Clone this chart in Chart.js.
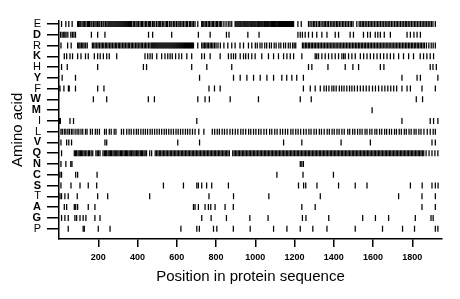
<!DOCTYPE html>
<html><head><meta charset="utf-8">
<script src="https://cdn.jsdelivr.net/npm/chart.js@4/dist/chart.umd.min.js"></script>
<style>html,body{margin:0;padding:0;background:#fff;}</style>
</head><body>
<canvas id="c" width="460" height="299"></canvas>
<script>
const aminoAcids = ['E','D','R','K','H','Y','F','W','M','I','L','V','Q','N','C','S','T','A','G','P'];
const boldLabels = ['D','K','Y','W','M','V','Q','N','C','S','A','G'];
const xTickValues = [200,400,600,800,1000,1200,1400,1600,1800];

const posE = [13,35,50,67,
95,100,106,111,118,126,131,137,145,150,156,163,168,176,183,189,196,203,208,216,224,229,237,244,250,
255,260,265,270,275,280,285,290,295,300,305,310,315,320,325,330,335,340,345,350,355,360,365,370,
378,384,392,398,405,413,420,425,433,441,447,455,462,467,476,483,488,497,505,511,518,526,531,540,547,553,562,570,575,584,590,598,606,612,620,627,634,642,650,655,664,671,678,685,693,
707,
727,732,738,745,752,760,766,774,781,787,795,802,808,816,822,829,
840,851,862,871,880,
897,902,907,912,917,922,927,932,938,943,948,953,958,963,968,974,979,984,989,994,999,1004,1010,1015,1020,1025,1030,1035,1040,1046,1051,1056,1061,1066,1071,1076,1082,1087,1092,1097,1102,1107,1112,1118,1123,1128,1133,1138,1143,1148,1154,1159,1164,1169,1174,1179,1184,1190,1195,
1217,1234,
1271,1279,1288,1296,1303,1311,1320,1327,1335,1344,1351,1358,1366,1373,1382,1390,1397,1405,1413,1420,1428,1436,1444,1451,1459,1467,1474,1483,1490,1498,1517,1529,1537,1545,1552,1560,1568,1576,1584,1591,1599,1607,1615,1623,1630,1638,1646,1654,1662,1670,1677,1685,1693,1701,1709,1717,1724,1732,1740,1748,1756,1764,1771,1779,1787,1795,1803,1811,1818,1826,1834,1842,1850,1858,1865,1873,1881,1889,1897,1905,1917];

const posD = [8,16,24,30,36,45,60,68,76,84,165,197,234,456,477,574,710,770,853,866,962,1019,1217,1229,1240,1254,1271,1291,1313,1339,1365,1407,1424,1483,1500,1551,1572,1586,1611,1624,1637,1657,1688,1773,1790,1808,1824,1841];

const posR = [10,44,62,
95,101,107,114,121,128,136,144,
170,177,184,192,199,206,214,221,228,236,243,250,258,265,272,280,287,294,302,309,316,324,331,338,346,353,360,368,375,382,390,397,404,412,419,426,434,441,448,456,463,
470,475,480,485,490,495,500,505,510,515,520,525,530,535,540,545,550,555,560,565,570,575,580,585,590,595,600,605,610,615,620,625,630,635,640,645,650,655,660,665,670,675,680,685,
707,
727,734,741,748,755,762,770,777,784,792,800,810,822,840,860,
880,897,922,940,965,982,
1000,1010,1024,1034,1048,1058,1072,1082,1096,1106,1120,1130,1144,1154,1168,1178,1190,1198,1206,
1240,1247,1255,1262,1270,1277,1285,1292,1300,1307,1315,1322,1330,1337,1345,1352,1360,1367,1375,1382,1390,1397,1405,1412,1420,1427,1435,1442,1450,1457,1465,1472,1480,1487,1495,1502,1510,1517,1525,1532,1540,1547,1555,1562,1570,1577,1585,1592,1600,1607,1615,1622,1630,1637,1645,1652,1660,1667,1675,1682,1690,1697,1705,1712,1720,1727,1735,1742,1750,1757,1765,1772,1780,1787,1795,1802,1810,1817,1825,1832,1840,1847,1855,1862,1872,1884,1896,1906,1917];

const posK = [27,39,56,69,95,112,135,149,180,197,210,226,243,256,294,438,452,464,475,498,523,540,554,566,577,594,611,625,651,676,727,741,770,821,863,877,889,900,923,940,951,965,982,999,1033,1067,1093,1118,1144,1161,1178,1195,1237,1305,1313,1322,1339,1356,1373,1390,1407,1424,1441,1450,1458,1475,1492,1509,1535,1552,1569,1586,1603,1620,1637,1654,1671,1688,1705,1730,1755,1781,1806,1840,1857,1874,1891,1908];

const posH = [13,42,197,430,446,676,753,880,1271,1288,1370,1458,1497,1526,1637,1655,1891,1905,1922];

const posY = [16,84,716,889,923,957,991,1025,1059,1093,1135,1160,1186,1211,1245,1747,1824,1841,1930];

const posF = [5,25,48,52,84,197,229,764,792,821,1245,1280,1305,1331,1350,1362,1375,1390,1400,1412,1428,1440,1452,1466,1480,1492,1505,1520,1535,1550,1565,1580,1597,1612,1628,1645,1660,1675,1690,1705,1720,1747,1773,1790,1849,1917];

const posW = [175,243,455,486,707,744,766,872,1016,1229,1285,1820,1852];

const posM = [1595];

const posI = [2,7,56,74,702,1747,1891,1908,1930];

const posL = [10,17,27,35,45,53,63,71,82,92,101,112,121,135,143,160,170,185,195,206,232,241,256,266,281,290,318,329,345,357,368,381,394,404,417,429,440,451,464,475,487,499,511,523,536,547,559,571,583,596,607,619,631,644,655,667,680,693,712,738,781,793,806,817,831,843,856,871,884,898,911,926,938,951,966,977,991,1003,1017,1029,1044,1057,1073,1084,1099,1111,1127,1139,1153,1165,1181,1192,1206,1218,1231,1246,1259,1273,1284,1299,1311,1326,1337,1351,1366,1377,1391,1402,1416,1427,1441,1453,1471,1481,1496,1507,1521,1533,1544,1559,1569,1583,1594,1609,1619,1633,1644,1659,1669,1683,1694,1709,1719,1733,1744,1759,1769,1783,1794,1809,1819,1833,1844,1859,1876,1891,1906,1917];

const posV = [10,39,50,64,234,243,605,716,1144,1237,1437,1586,1900,1917];

const posQ = [13,78,84,90,97,103,109,115,121,128,134,142,150,156,164,172,188,195,202,209,224,231,237,243,250,256,262,268,275,281,287,294,300,306,313,319,325,332,338,344,350,357,363,369,376,382,388,395,401,407,414,420,426,433,439,446,
462,472,490,497,504,511,518,525,532,539,546,553,560,567,574,581,588,595,602,609,616,623,630,637,644,651,658,665,672,679,686,693,700,707,714,721,728,735,742,749,756,763,770,777,784,791,798,805,812,819,826,833,840,847,854,861,868,
885,892,899,906,913,920,927,934,941,948,955,962,969,976,983,990,997,1004,1011,1018,1025,1032,1039,1046,1053,1060,1067,1074,1081,1088,1095,1102,1109,1116,1123,1130,1137,1144,1151,1158,1165,1172,1179,1186,1193,1200,1207,1214,1221,1228,1235,1242,1249,1256,1263,1270,1277,1284,1291,1298,1305,1312,1319,1326,1333,1340,1347,1354,1361,1368,1375,1382,1389,1396,1403,1410,1417,1424,1431,1438,1445,1452,1459,1466,1473,1480,1487,1494,1501,1508,1515,1522,1529,1536,1543,1550,1557,1564,1571,1578,1585,1592,1599,1606,1613,1620,1627,1634,1641,1648,1655,1662,1669,1676,1683,1690,1697,1704,1711,1718,1725,1732,1739,1746,1753,1760,1767,1774,1781,1788,1795,1802,1809,1816,1823,1830,1837,1844,1851,1858,1870,1885,1900,1915,1930];

const posN = [10,35,60,66,1229,1237,1245];
const posC = [5,13,85,95,194,1110,1243,1398];
const posS = [10,61,107,149,192,532,634,702,710,727,752,778,863,1220,1246,1257,1314,1424,1509,1569,1790,1850,1900,1917,1931];
const posT = [5,13,30,47,93,197,248,462,764,889,1069,1331,1730,1849,1917];
const posA = [27,39,78,85,95,149,183,685,693,710,744,761,773,795,846,888,1237,1305,1849,1917];
const posG = [13,30,47,81,90,107,123,137,183,209,727,775,853,972,1065,1240,1258,1374,1547,1612,1679,1815,1895,1906];
const posP = [47,123,129,200,260,621,702,715,787,804,888,974,1093,1161,1229,1293,1365,1509,1648,1750,1811,1917,1930];

const positionsByAcid = {E:posE,D:posD,R:posR,K:posK,H:posH,Y:posY,F:posF,W:posW,M:posM,I:posI,
  L:posL,V:posV,Q:posQ,N:posN,C:posC,S:posS,T:posT,A:posA,G:posG,P:posP};

const nRows = aminoAcids.length;
const datasets = aminoAcids.map((aa, i) => ({
  label: aa,
  data: positionsByAcid[aa].map(p => ({x: p, y: nRows - i})),
  borderColor: '#000',
  backgroundColor: '#000',
  pointStyle: 'line',
  rotation: 90,
  pointRadius: 3,
  pointHoverRadius: 3,
  pointBorderWidth: 1.25
}));

const FONT = 'Liberation Sans, Arial, Helvetica, sans-serif';

new Chart(document.getElementById('c'), {
  type: 'scatter',
  data: { datasets },
  options: {
    responsive: false,
    animation: false,
    events: [],
    layout: { padding: { top: 20.7, right: 18, left: 0, bottom: 0 } },
    plugins: { legend: { display: false }, tooltip: { enabled: false }, colors: { enabled: false } },
    scales: {
      x: {
        type: 'linear', min: 0, max: 1951,
        afterBuildTicks: s => { s.ticks = xTickValues.map(v => ({ value: v })); },
        afterFit: s => { s.height = 60; },
        grid: { drawOnChartArea: false, drawTicks: true, tickLength: 8, color: '#000', lineWidth: 1.5 },
        border: { display: true, color: '#000', width: 1.5 },
        ticks: { color: '#000', font: { family: FONT, size: 9, weight: 'bold' }, padding: 5, maxRotation: 0, autoSkip: false,
                 callback: v => String(v) },
        title: { display: true, text: 'Position in protein sequence', color: '#000',
                 font: { family: FONT, size: 15 }, padding: { top: 0, bottom: 13 } }
      },
      y: {
        type: 'linear', min: 0.04, max: 20.3,
        afterBuildTicks: s => { s.ticks = aminoAcids.map((a, i) => ({ value: nRows - i })); },
        afterFit: s => { s.width = 59; },
        grid: { drawOnChartArea: false, drawTicks: true, tickLength: 12, color: '#000', lineWidth: 1.5 },
        border: { display: true, color: '#000', width: 1.5 },
        ticks: {
          color: '#000', padding: 6, autoSkip: false,
          callback: v => aminoAcids[nRows - v],
          font: ctx => {
            const lab = ctx.tick ? aminoAcids[nRows - ctx.tick.value] : '';
            return { family: FONT, size: 11, weight: boldLabels.includes(lab) ? 'bold' : 'normal' };
          }
        },
        title: { display: true, text: 'Amino acid', color: '#000',
                 font: { family: FONT, size: 15 }, padding: { top: 8.5, bottom: 0 } }
      }
    }
  }
});
</script>
</body></html>
